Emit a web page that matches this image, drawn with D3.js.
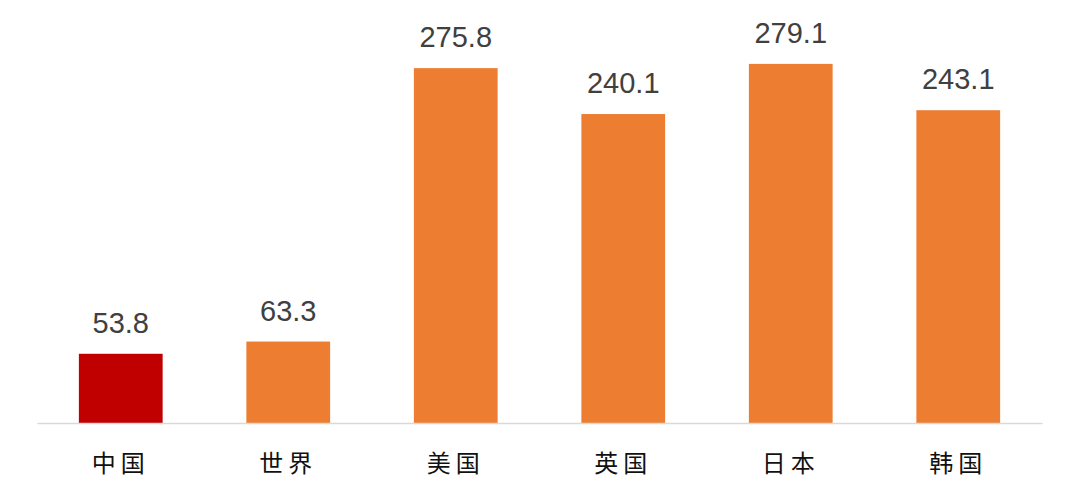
<!DOCTYPE html>
<html>
<head>
<meta charset="utf-8">
<script src="https://cdnjs.cloudflare.com/ajax/libs/d3/7.8.5/d3.min.js"></script>
<style>
  body { margin: 0; background: #fff; }
</style>
</head>
<body>
<div id="chart"></div>
<script>
// data
var categories = ["中国", "世界", "美国", "英国", "日本", "韩国"];
var values = [53.8, 63.3, 275.8, 240.1, 279.1, 243.1];
var barColors = ["#c00000", "#ed7d31", "#ed7d31", "#ed7d31", "#ed7d31", "#ed7d31"];

var svgWidth = 1080;
var svgHeight = 502;

var svg = d3.select("#chart")
  .append("svg")
  .attr("width", svgWidth)
  .attr("height", svgHeight);

var xScale = d3.scaleBand()
  .domain(categories)
  .range([37, 1042])
  .paddingInner(0.5)
  .paddingOuter(0.25);

var yScale = d3.scaleLinear()
  .domain([0, 300])
  .range([423, 37]);

// bars
svg.selectAll("rect.bar")
  .data(values)
  .enter()
  .append("rect")
  .attr("class", "bar")
  .attr("x", (d, i) => xScale(categories[i]))
  .attr("y", d => yScale(d))
  .attr("width", xScale.bandwidth())
  .attr("height", d => yScale(0) - yScale(d))
  .attr("fill", (d, i) => barColors[i]);

// value labels
svg.selectAll("text.value")
  .data(values)
  .enter()
  .append("text")
  .attr("class", "value")
  .attr("x", (d, i) => xScale(categories[i]) + xScale.bandwidth() / 2)
  .attr("y", d => yScale(d) - 21)
  .attr("text-anchor", "middle")
  .style("font-family", "'Liberation Sans', Arial, sans-serif")
  .style("font-size", "29px")
  .style("fill", "#404040")
  .text(d => d.toFixed(1));

// x axis
var xAxis = svg.append("g")
  .attr("transform", `translate(0, ${yScale(0)})`)
  .call(d3.axisBottom(xScale).tickSize(0).tickPadding(0));

xAxis.select(".domain")
  .attr("stroke", "#d9d9d9")
  .attr("stroke-width", 1.5);

xAxis.selectAll("text")
  .attr("dy", 0)
  .attr("y", 49)
  .style("font-family", "'Noto Sans CJK SC', sans-serif")
  .style("font-size", "24px")
  .style("letter-spacing", "5px")
  .style("fill", "#111");
</script>
</body>
</html>
